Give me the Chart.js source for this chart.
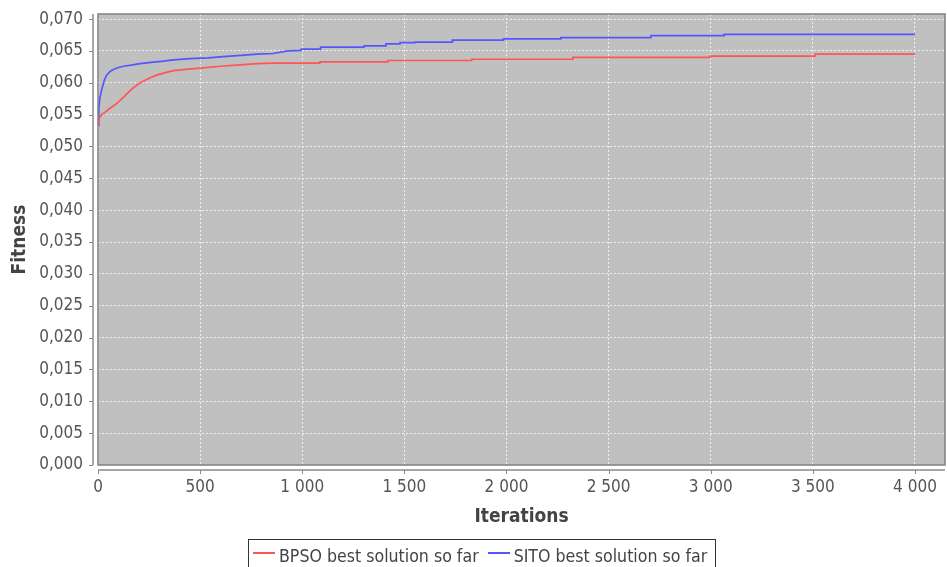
<!DOCTYPE html>
<html>
<head>
<meta charset="utf-8">
<script src="https://cdn.jsdelivr.net/npm/chart.js@4.4.1/dist/chart.umd.min.js"></script>
<style>
html,body{margin:0;padding:0;background:#fff;overflow:hidden;width:947px;height:567px;}
#wrap{position:relative;width:947px;height:567px;}
canvas{display:block;}
#legend{position:absolute;left:248px;top:539px;height:40px;border:1px solid #333;box-sizing:border-box;display:flex;align-items:flex-start;padding:6px 8px 0 4px;font-family:"DejaVu Sans Condensed","DejaVu Sans",sans-serif;font-size:17.6px;line-height:20px;color:#444;white-space:nowrap;}
#legend .item{display:flex;align-items:center;margin-right:9px;}
#legend .item:last-child{margin-right:0;}
#legend .sw{display:inline-block;width:22px;height:2px;margin-right:4px;transform:translateY(-3px);}
</style>
</head>
<body>
<div id="wrap">
<canvas id="c" width="947" height="567"></canvas>
<div id="legend"></div>
</div>
<script>
// ---- data (best-so-far fitness; paired points mark the step changes) ----
const seriesNames = ["BPSO best solution so far", "SITO best solution so far"];
const bpsoIter    = [0, 3, 8, 18, 35, 59, 90, 124, 165, 206, 250, 287, 330, 369, 430, 500, 600, 695, 780, 857, 1086, 1087, 1419, 1420, 1829, 1830, 2324, 2325, 2996, 2997, 3510, 3511, 4000];
const bpsoFitness = [0.0533, 0.0541, 0.0546, 0.0550, 0.0554, 0.0560, 0.0567, 0.0577, 0.0590, 0.0600, 0.0607, 0.0612, 0.0616, 0.0619, 0.0621, 0.0623, 0.0626, 0.0628, 0.0630, 0.0631, 0.0631, 0.0633, 0.0633, 0.0635, 0.0635, 0.0637, 0.0637, 0.0640, 0.0640, 0.0642, 0.0642, 0.0645, 0.0645];
const sitoIter    = [0, 4, 10, 18, 30, 42, 60, 75, 100, 124, 170, 206, 260, 320, 369, 450, 540, 613, 700, 780, 857, 930, 994, 995, 1089, 1090, 1302, 1303, 1409, 1410, 1478, 1479, 1552, 1553, 1734, 1735, 1984, 1985, 2265, 2266, 2706, 2707, 3065, 3066, 4000];
const sitoFitness = [0.0533, 0.0560, 0.0578, 0.0589, 0.0603, 0.0612, 0.0618, 0.0621, 0.0624, 0.0626, 0.0628, 0.0630, 0.0632, 0.0634, 0.0636, 0.0638, 0.0639, 0.0641, 0.0643, 0.0645, 0.0646, 0.0650, 0.0651, 0.0653, 0.0653, 0.0656, 0.0656, 0.0658, 0.0658, 0.0661, 0.0661, 0.0663, 0.0663, 0.0664, 0.0664, 0.0667, 0.0667, 0.0669, 0.0669, 0.0671, 0.0671, 0.0674, 0.0674, 0.0676, 0.0676];
const xTickValues = [0, 500, 1000, 1500, 2000, 2500, 3000, 3500, 4000];
const yTickValues = [0, 0.005, 0.010, 0.015, 0.020, 0.025, 0.030, 0.035, 0.040, 0.045, 0.050, 0.055, 0.060, 0.065, 0.070];
const xTitle = "Iterations";
const yTitle = "Fitness";
const seriesColors = ["#ff5555", "#5555ff"];

// ---- helpers ----
function fmtX(v){
  v = Math.round(v);
  if (v >= 1000) return Math.floor(v/1000) + " " + String(v % 1000).padStart(3, "0");
  return String(v);
}
function fmtY(v){ return v.toFixed(3).replace(".", ","); }
function pts(xs, ys){ return xs.map((x, i) => ({x: x, y: ys[i]})); }

const FONT = '"DejaVu Sans Condensed","DejaVu Sans",sans-serif';

const framePlugin = {
  id: "frame",
  beforeDraw(chart){
    const {ctx, chartArea: a} = chart;
    ctx.save();
    ctx.fillStyle = "#c0c0c0";
    ctx.fillRect(a.left, a.top, a.right - a.left, a.bottom - a.top);
    ctx.restore();
  },
  afterDraw(chart){
    const {ctx, chartArea: a, scales} = chart;
    ctx.save();
    ctx.strokeStyle = "#808080";
    ctx.lineWidth = 1.5;
    ctx.strokeRect(a.left, a.top, a.right - a.left, a.bottom - a.top);
    ctx.strokeStyle = "#8a8a8a";
    ctx.lineWidth = 1.5;
    const ax = a.left - 5, ay = a.bottom + 5;
    ctx.beginPath();
    ctx.moveTo(ax, a.top); ctx.lineTo(ax, a.bottom);
    ctx.moveTo(a.left, ay); ctx.lineTo(a.right, ay);
    ctx.stroke();
    ctx.lineWidth = 1;
    ctx.beginPath();
    scales.y.ticks.forEach(t => {
      const p = Math.round(scales.y.getPixelForValue(t.value)) + 0.5;
      ctx.moveTo(ax - 4, p); ctx.lineTo(ax, p);
    });
    scales.x.ticks.forEach(t => {
      const p = Math.round(scales.x.getPixelForValue(t.value)) + 0.5;
      ctx.moveTo(p, ay); ctx.lineTo(p, ay + 4);
    });
    ctx.stroke();
    ctx.restore();
  }
};

const chart = new Chart(document.getElementById("c"), {
  type: "line",
  data: {
    datasets: [
      {label: seriesNames[0], data: pts(bpsoIter, bpsoFitness), borderColor: seriesColors[0], borderWidth: 1.7, pointRadius: 0, tension: 0, fill: false},
      {label: seriesNames[1], data: pts(sitoIter, sitoFitness), borderColor: seriesColors[1], borderWidth: 1.7, pointRadius: 0, tension: 0, fill: false}
    ]
  },
  options: {
    responsive: false,
    animation: false,
    layout: {padding: {left: 0, top: 14, right: 2, bottom: 39}},
    plugins: {legend: {display: false}, tooltip: {enabled: false}},
    scales: {
      x: {
        type: "linear",
        min: 0, max: 4147,
        afterBuildTicks(s){ s.ticks = xTickValues.map(v => ({value: v})); },
        afterFit(s){ s.height = 63; },
        grid: {color: "rgba(255,255,255,0.75)", lineWidth: 1, drawTicks: true, tickLength: 12, tickColor: "rgba(0,0,0,0)"},
        border: {display: false, dash: [2, 2]},
        ticks: {callback: v => fmtX(v), padding: 0, maxRotation: 0, autoSkip: false, color: "#555", font: {family: FONT, size: 17}},
        title: {display: true, text: xTitle, color: "#444", padding: {top: 0, bottom: 0}, font: {family: FONT, size: 19, weight: "bold"}}
      },
      y: {
        type: "linear",
        min: 0, max: 0.0708,
        afterBuildTicks(s){ s.ticks = yTickValues.map(v => ({value: v})); },
        afterFit(s){ s.width = 98; },
        grid: {color: "rgba(255,255,255,0.75)", lineWidth: 1, drawTicks: true, tickLength: 15, tickColor: "rgba(0,0,0,0)"},
        border: {display: false, dash: [2, 2]},
        ticks: {callback: v => fmtY(v), padding: 0, color: "#555", font: {family: FONT, size: 17}},
        title: {display: true, text: yTitle, color: "#444", padding: {top: 9, bottom: 0}, font: {family: FONT, size: 19, weight: "bold"}}
      }
    }
  },
  plugins: [framePlugin]
});

// HTML legend built from the chart's datasets
const lg = document.getElementById("legend");
chart.data.datasets.forEach(ds => {
  const it = document.createElement("span");
  it.className = "item";
  const sw = document.createElement("span");
  sw.className = "sw";
  sw.style.background = ds.borderColor;
  const tx = document.createElement("span");
  tx.textContent = ds.label;
  it.appendChild(sw); it.appendChild(tx);
  lg.appendChild(it);
});
</script>
</body>
</html>
